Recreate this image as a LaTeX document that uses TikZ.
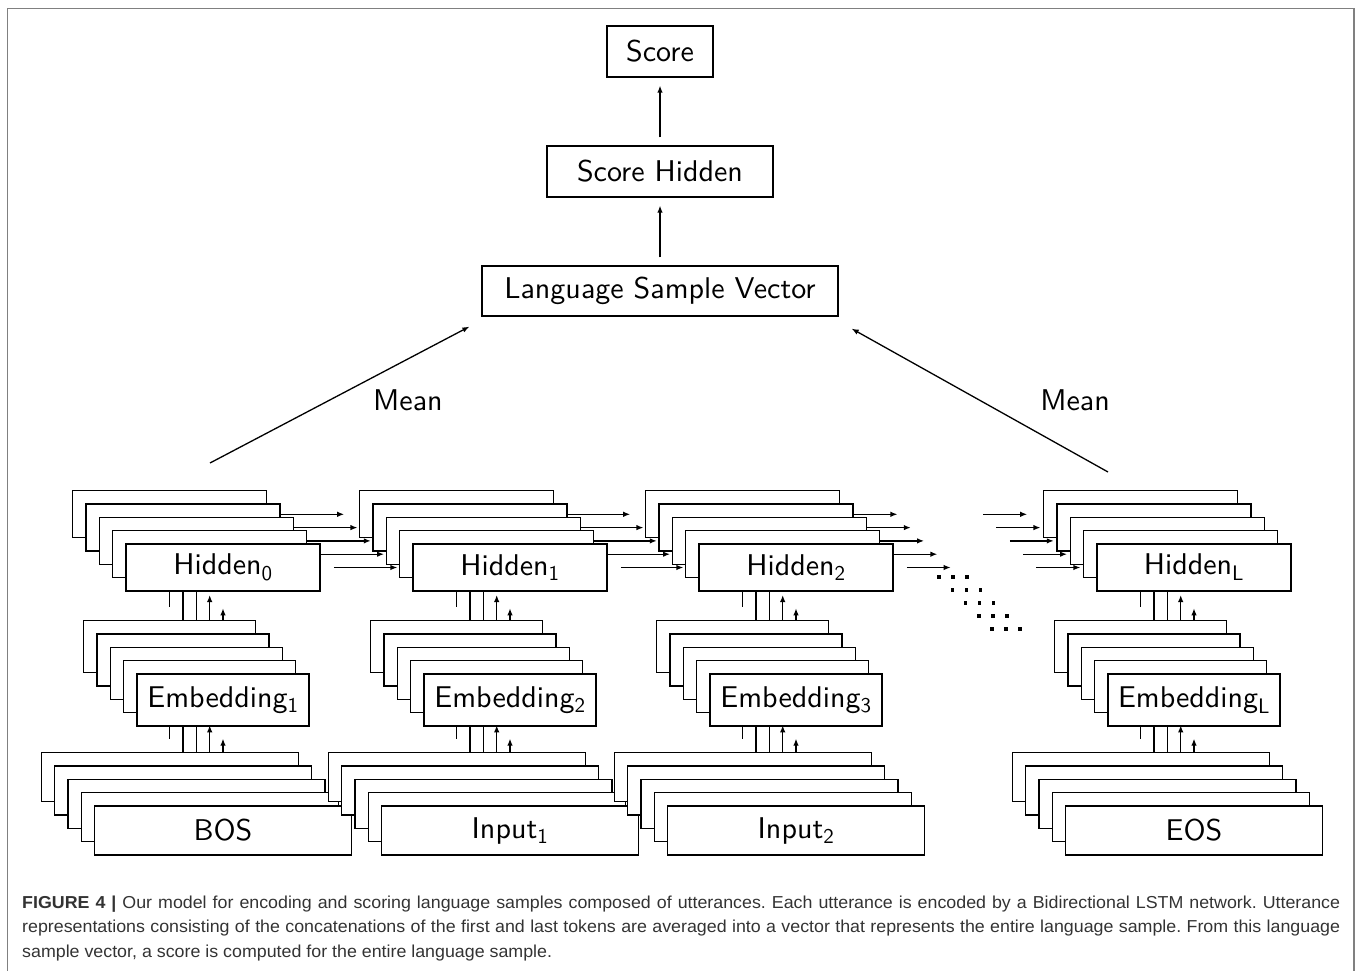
\documentclass[tikz,border=0pt]{standalone}
\usepackage{fontspec}
\usetikzlibrary{arrows.meta}
\newfontfamily\boxfont{lmsans10-regular.otf}
\newfontfamily\capfont[FakeStretch=1.03]{Liberation Sans}
\pgfdeclarelayer{background}
\pgfsetlayers{background,main}
% #1 name prefix, #2 centre x, #3 centre y, #4 width, #5 height, #6 label
\newcommand{\drawstack}[6]{%
  \foreach \k in {4,3,2,1} {%
    \node[box, minimum width=#4pt, minimum height=#5pt] (#1-\k) at ({#2-13.3*\k},{#3-13.3*\k}) {};
  }
  \node[box, minimum width=#4pt, minimum height=#5pt] (#1-0) at (#2,#3) {#6};
}
\begin{document}
\begin{tikzpicture}[x=1pt,y=-1pt,
  box/.style={draw=black, line width=1.3pt, fill=white, inner sep=0pt,
    font=\boxfont\fontsize{30}{34}\selectfont},
  conn/.style={line width=1.3pt, -{Latex[length=7pt,width=5.5pt]}},
  lbl/.style={inner sep=0pt, font=\boxfont\fontsize{30}{34}\selectfont},
  framec/.style={draw=black!50, line width=1.7pt}]
\useasboundingbox (0,0) rectangle (1360,971);
\draw[framec] (7.5,971) -- (7.5,8.5) -- (1354,8.5) -- (1354,971);

% top chain
\node[box, minimum width=106pt, minimum height=51pt] (score) at (660,51.5) {Score};
\node[box, minimum width=226pt, minimum height=51pt] (sh) at (660,171.5) {Score Hidden};
\node[box, minimum width=356pt, minimum height=50pt] (lsv) at (660,291) {Language Sample Vector};
\draw[conn, shorten <=8pt, shorten >=8pt] (lsv.north) -- (sh.south);
\draw[conn, shorten <=8pt, shorten >=8pt] (sh.north) -- (score.south);

% mean arrows
\node[lbl] (meanl) at (408,400) {Mean};
\node[lbl] (meanr) at (1075,400) {Mean};
\coordinate (ml) at (210,463);
\coordinate (mr) at (1108,472);
\draw[conn] (ml) -- ([xshift=-12pt,yshift=-10pt]lsv.south west);
\draw[conn] (mr) -- ([xshift=13pt,yshift=-12pt]lsv.south east);

% stacks
\drawstack{H0}{223}{567.5}{194}{47}{Hidden\textsubscript{0}}
\drawstack{E0}{223}{700}{172}{52}{Embedding\textsubscript{1}}
\drawstack{I0}{223}{830.5}{257}{49}{BOS}
\drawstack{H1}{510}{567.5}{194}{47}{Hidden\textsubscript{1}}
\drawstack{E1}{510}{700}{172}{52}{Embedding\textsubscript{2}}
\drawstack{I1}{510}{830.5}{257}{49}{Input\textsubscript{1}}
\drawstack{H2}{796}{567.5}{194}{47}{Hidden\textsubscript{2}}
\drawstack{E2}{796}{700}{172}{52}{Embedding\textsubscript{3}}
\drawstack{I2}{796}{830.5}{257}{49}{Input\textsubscript{2}}
\drawstack{HL}{1194}{567.5}{194}{47}{Hidden\textsubscript{L}}
\drawstack{EL}{1194}{700}{172}{52}{Embedding\textsubscript{L}}
\drawstack{IL}{1194}{830.5}{257}{49}{EOS}

\begin{pgfonlayer}{background}
\foreach \c in {0,1,2,L} {
  \foreach \k in {0,...,4} {
    \draw[conn, shorten <=13.3pt, shorten >=16.7pt] (E\c-\k.north) -- (H\c-\k.south);
    \draw[conn, shorten <=13.3pt, shorten >=12pt] (I\c-\k.north) -- (E\c-\k.south);
  }
}
\foreach \k in {0,...,4} {
  \draw[conn, shorten <=13.3pt, shorten >=15pt] (H0-\k.east) -- (H1-\k.west);
  \draw[conn, shorten <=13.3pt, shorten >=15pt] (H1-\k.east) -- (H2-\k.west);
  \draw[conn] ([xshift=13.3pt]H2-\k.east) -- ([xshift=57pt]H2-\k.east);
  \draw[conn] ([xshift=-60pt]HL-\k.west) -- ([xshift=-16pt]HL-\k.west);
}
\end{pgfonlayer}

% dots
\foreach \i in {0,...,4} {
  \foreach \j in {0,1,2} {
    \fill ({937.2+13.3*\i+14*\j},{575.2+13*\i}) rectangle ++(3.6,3.6);
  }
}

% caption
\node[anchor=north west, inner sep=0pt, text width=1318pt, align=justify,
  font=\capfont\fontsize{17.3}{24.5}\selectfont\frenchspacing, text=black!80] (cap) at (22,895.5)
  {\textbf{FIGURE 4 |} Our model for encoding and scoring language samples composed of utterances. Each utterance is encoded by a Bidirectional LSTM network. Utterance\linebreak
  representations consisting of the concatenations of the first and last tokens are averaged into a vector that represents the entire language sample. From this language\linebreak
  sample vector, a score is computed for the entire language sample.};
\end{tikzpicture}
\end{document}
